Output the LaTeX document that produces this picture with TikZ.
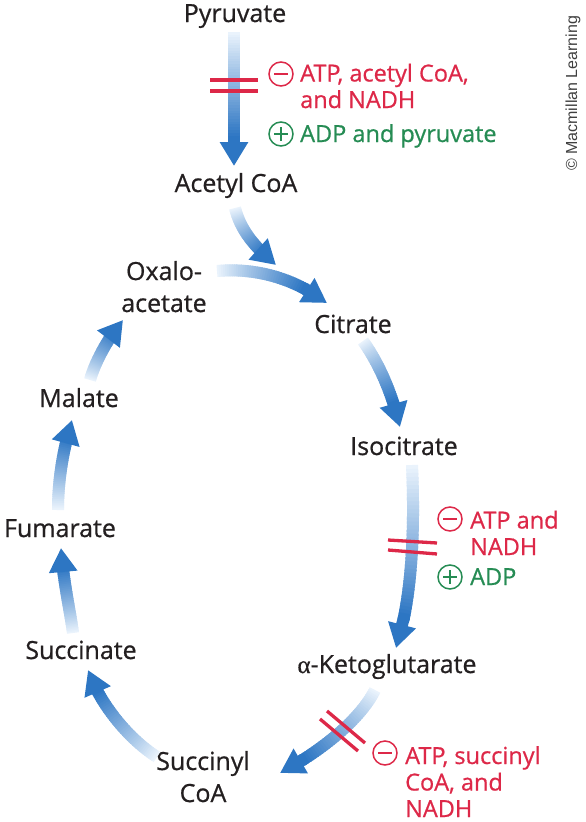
\documentclass[tikz,border=0pt]{standalone}
\usepackage{fontspec}
\setmainfont{Open Sans}[FakeBold=0.7]
\newfontfamily\mainf{Open Sans}[FakeBold=0.7]
\newfontfamily\grk{Liberation Serif}[FakeBold=0.5]
\newfontfamily\copyf{Liberation Sans}
\usetikzlibrary{arrows.meta}
\definecolor{ablue}{RGB}{45,118,195}
\definecolor{alight}{RGB}{234,243,252}
\definecolor{ired}{RGB}{221,40,72}
\definecolor{agreen}{RGB}{38,140,84}
\definecolor{ink}{RGB}{35,31,32}
\newcommand\garrow[4]{%
  \foreach \i in {0,...,39}{%
    \pgfmathsetmacro\ta{\i/40*0.82}%
    \pgfmathsetmacro\tb{min(0.82,(\i+1.6)/40*0.82)}%
    \pgfmathsetmacro\pc{min(100,\i/40*0.82/0.78*100)}%
    \path #1 .. controls #2 and #3 .. #4 coordinate[pos=\ta] (ga) coordinate[pos=\tb] (gb);
    \draw[line width=12pt, color=ablue!\pc!alight] (ga) -- (gb);
  }%
  \path #1 .. controls #2 and #3 .. #4 coordinate[pos=0.8] (gc);
  \draw[line width=12pt, ablue, -{Triangle[length=24pt,width=27pt]}] (gc) -- #4;
}
\tikzset{
  met/.style={font=\mainf\fontsize{25}{32}\selectfont, text=ink, inner sep=0pt, anchor=base, align=center},
  lab/.style={font=\mainf\fontsize{23.5}{26.5}\selectfont, inner sep=0pt, anchor=base west, align=left},
  inhib/.style={draw=ired, line width=3.3pt},
  sgn/.style={circle, minimum size=24pt, line width=1.5pt, inner sep=0pt},
}
\newcommand\minussign[2]{%
  \node[sgn, draw=ired] (#1) at #2 {};
  \draw[ired, line width=1.5pt] ([xshift=-7pt]#1.center) -- ([xshift=7pt]#1.center);
}
\newcommand\plussign[2]{%
  \node[sgn, draw=agreen] (#1) at #2 {};
  \draw[agreen, line width=1.5pt] ([xshift=-7pt]#1.center) -- ([xshift=7pt]#1.center);
  \draw[agreen, line width=1.5pt] ([yshift=-7pt]#1.center) -- ([yshift=7pt]#1.center);
}
\begin{document}
\begin{tikzpicture}[x=1pt, y=-1pt]
\useasboundingbox (0,0) rectangle (586,822);
% metabolites
\node[met] (pyr) at (235,22) {Pyruvate};
\node[met] (acoa) at (236,192) {Acetyl CoA};
\node[met] (oaa) at (164,312) {Oxalo-\\acetate};
\node[met] (cit) at (353,333) {Citrate};
\node[met] (iso) at (404,455) {Isocitrate};
\node[met] (akg) at (387,673) {{\grk α}-Ketoglutarate};
\node[met] (scoa) at (203,802) {Succinyl\\CoA};
\node[met] (succ) at (81,659) {Succinate};
\node[met] (fum) at (60,537) {Fumarate};
\node[met] (mal) at (79,407) {Malate};
% arrow end points
\coordinate (pyr-o) at (234,32);   \coordinate (acoa-i) at (234,166);
\coordinate (acoa-o) at (235,208); \coordinate (cit-i1) at (276,265);
\coordinate (oaa-o) at (217,271);  \coordinate (cit-i2) at (327,303);
\coordinate (cit-o) at (363,341);  \coordinate (iso-i) at (400,427);
\coordinate (iso-o) at (412,465);  \coordinate (akg-i) at (396,648);
\coordinate (akg-o) at (375,690);  \coordinate (scoa-i) at (280,773);
\coordinate (scoa-o) at (157,757); \coordinate (succ-i) at (88,670);
\coordinate (succ-o) at (73,633);  \coordinate (fum-i) at (61,548);
\coordinate (fum-o) at (58,510);   \coordinate (mal-i) at (72,420);
\coordinate (mal-o) at (90,380);   \coordinate (oaa-i) at (123,320);
% arrows
\garrow{(pyr-o)}{(234,75)}{(234,120)}{(acoa-i)}
\garrow{(acoa-o)}{(240,228)}{(252,245)}{(cit-i1)}
\garrow{(oaa-o)}{(250,268)}{(290,275)}{(cit-i2)}
\garrow{(cit-o)}{(375,358)}{(390,385)}{(iso-i)}
\garrow{(iso-o)}{(415,530)}{(412,600)}{(akg-i)}
\garrow{(akg-o)}{(360,720)}{(320,752)}{(scoa-i)}
\garrow{(scoa-o)}{(130,740)}{(100,705)}{(succ-i)}
\garrow{(succ-o)}{(70,610)}{(63,580)}{(fum-i)}
\garrow{(fum-o)}{(58,480)}{(63,450)}{(mal-i)}
\garrow{(mal-o)}{(95,362)}{(108,338)}{(oaa-i)}
% inhibition bars
\coordinate (b1a) at (210,80); \coordinate (b1b) at (258,80);
\coordinate (b2a) at (210,91); \coordinate (b2b) at (258,91);
\draw[inhib] (b1a) -- (b1b); \draw[inhib] (b2a) -- (b2b);
\coordinate (b3a) at (388,540); \coordinate (b3b) at (437,543);
\coordinate (b4a) at (388,550); \coordinate (b4b) at (437,554);
\draw[inhib] (b3a) -- (b3b); \draw[inhib] (b4a) -- (b4b);
\coordinate (b5a) at (320,719); \coordinate (b5b) at (358,751);
\coordinate (b6a) at (327,711); \coordinate (b6b) at (365,743);
\draw[inhib] (b5a) -- (b5b); \draw[inhib] (b6a) -- (b6b);
% regulators
\minussign{m1}{(281,74)}
\node[lab, text=ired] (l1) at (300,108) {ATP, acetyl CoA,\\and NADH};
\plussign{p1}{(281,134)}
\node[lab, text=agreen] (l2) at (300,142) {ADP and pyruvate};
\minussign{m2}{(450,519)}
\node[lab, text=ired] (l3) at (470,555) {ATP and\\NADH};
\plussign{p2}{(450,577)}
\node[lab, text=agreen] (l4) at (470,585) {ADP};
\minussign{m3}{(385,753)}
\node[lab, text=ired] (l5) at (405,817) {ATP, succinyl\\CoA, and\\NADH};
% copyright
\node[rotate=90, anchor=base west, inner sep=0pt, font=\copyf\fontsize{16}{18}\selectfont, text=black!75] (copy) at (577,171) {© Macmillan Learning};
\end{tikzpicture}
\end{document}
